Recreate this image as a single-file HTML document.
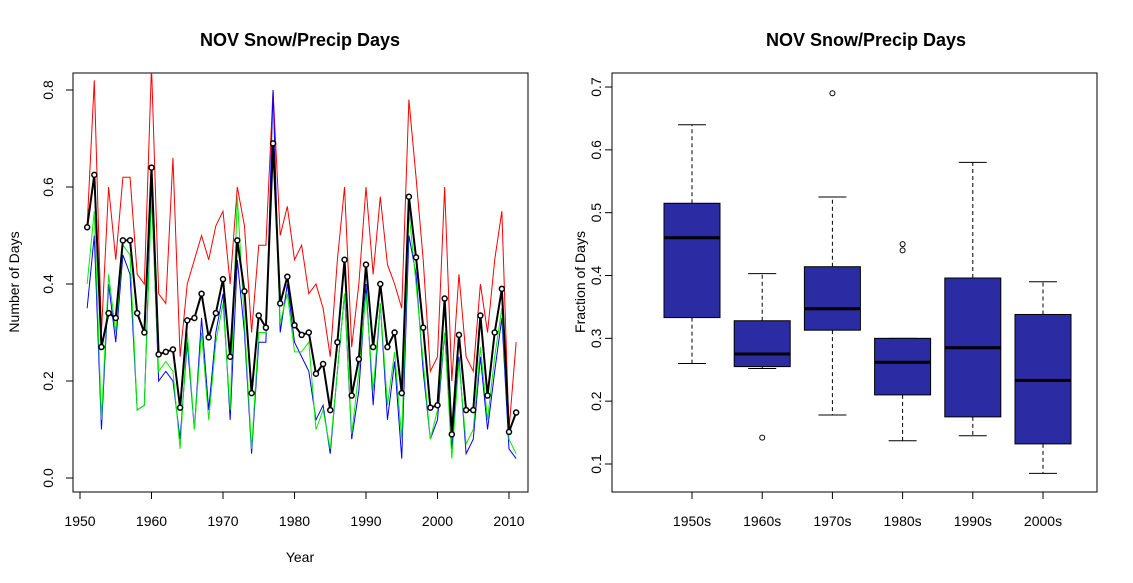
<!DOCTYPE html>
<html><head><meta charset="utf-8">
<style>
body{margin:0;background:#fff;}
svg{display:block;font-family:"Liberation Sans",Arial,sans-serif;}
</style></head>
<body>
<svg id="chart" width="1133" height="583">
<text x="300" y="46" font-size="18" font-weight="bold" text-anchor="middle">NOV Snow/Precip Days</text>
<text x="866" y="46" font-size="18" font-weight="bold" text-anchor="middle">NOV Snow/Precip Days</text>
<text x="300" y="562" font-size="14" text-anchor="middle">Year</text>
<text transform="translate(19,282) rotate(-90)" font-size="14" text-anchor="middle">Number of Days</text>
<text transform="translate(585,282) rotate(-90)" font-size="14" text-anchor="middle">Fraction of Days</text>
<g id="left"></g><g id="right"></g>
</svg>
<script>
const years=[];for(let y=1951;y<=2011;y++)years.push(y);
const black=[0.517,0.625,0.27,0.34,0.33,0.49,0.49,0.34,0.30,0.64,0.255,0.26,0.265,0.145,0.325,0.33,0.38,0.29,0.34,0.41,0.25,0.49,0.385,0.175,0.335,0.31,0.69,0.36,0.415,0.315,0.295,0.30,0.215,0.235,0.14,0.28,0.45,0.17,0.245,0.44,0.27,0.40,0.27,0.30,0.175,0.58,0.455,0.31,0.145,0.15,0.37,0.09,0.295,0.14,0.14,0.335,0.17,0.30,0.39,0.095,0.135];
const red=[0.52,0.82,0.30,0.60,0.45,0.62,0.62,0.42,0.40,0.85,0.38,0.36,0.66,0.25,0.40,0.45,0.50,0.45,0.52,0.55,0.40,0.60,0.52,0.30,0.48,0.48,0.80,0.50,0.56,0.45,0.48,0.38,0.40,0.35,0.25,0.45,0.60,0.27,0.40,0.60,0.42,0.58,0.44,0.40,0.35,0.78,0.62,0.45,0.22,0.25,0.60,0.20,0.42,0.25,0.22,0.40,0.30,0.45,0.55,0.10,0.28];
const blue=[0.35,0.50,0.10,0.40,0.28,0.46,0.42,0.14,0.15,0.60,0.20,0.22,0.20,0.08,0.28,0.10,0.33,0.14,0.30,0.38,0.12,0.45,0.30,0.05,0.28,0.28,0.80,0.30,0.40,0.28,0.25,0.22,0.12,0.15,0.05,0.22,0.38,0.08,0.18,0.40,0.15,0.36,0.12,0.24,0.04,0.50,0.42,0.22,0.08,0.12,0.30,0.06,0.25,0.05,0.08,0.25,0.10,0.22,0.33,0.06,0.04];
const green=[0.40,0.55,0.12,0.42,0.30,0.48,0.46,0.14,0.15,0.58,0.22,0.24,0.22,0.06,0.30,0.10,0.30,0.12,0.28,0.36,0.14,0.58,0.32,0.06,0.30,0.30,0.69,0.32,0.38,0.26,0.26,0.28,0.10,0.14,0.06,0.22,0.38,0.09,0.22,0.38,0.18,0.36,0.15,0.26,0.08,0.55,0.40,0.24,0.08,0.14,0.30,0.04,0.24,0.07,0.10,0.27,0.12,0.25,0.35,0.08,0.05];
const xTicks=[1950,1960,1970,1980,1990,2000,2010];
const yTicks=[0.0,0.2,0.4,0.6,0.8];
const decades=["1950s","1960s","1970s","1980s","1990s","2000s"];
const whLo=[0.26,0.252,0.178,0.137,0.145,0.085];
const q1=[0.333,0.255,0.313,0.21,0.175,0.132];
const med=[0.46,0.275,0.347,0.262,0.285,0.233];
const q3=[0.515,0.328,0.414,0.30,0.396,0.338];
const whHi=[0.64,0.403,0.525,0.30,0.58,0.39];
const outliers=[[],[0.142],[0.69],[0.44,0.45],[],[]];
const rTicks=[0.1,0.2,0.3,0.4,0.5,0.6,0.7];

const NS="http://www.w3.org/2000/svg";
function mk(p,t,a){const e=document.createElementNS(NS,t);for(const k in a)e.setAttribute(k,a[k]);p.appendChild(e);return e;}
const L=document.getElementById('left'),R=document.getElementById('right');
const xs=y=>80+(y-1950)*7.15, ys=v=>478-v*485;
let e=mk(L,'rect',{x:73,y:73,width:455,height:419,fill:'none',stroke:'#000'});


xTicks.forEach(t=>{mk(L,'line',{x1:xs(t),x2:xs(t),y1:492,y2:499,stroke:'#000'});
 const tx=mk(L,'text',{x:xs(t),y:526,'font-size':14,'text-anchor':'middle'});tx.textContent=t;
 
 });
yTicks.forEach(t=>{mk(L,'line',{x1:66,x2:73,y1:ys(t),y2:ys(t),stroke:'#000'});
 const tx=mk(L,'text',{transform:`translate(53,${ys(t)}) rotate(-90)`,'font-size':14,'text-anchor':'middle'});tx.textContent=t.toFixed(1);
 
 });
const cp=mk(L,'clipPath',{id:'lc'});mk(cp,'rect',{x:73,y:73,width:455,height:419});
function line(arr,col,w,name){const p=mk(L,'polyline',{points:arr.map((v,i)=>xs(years[i])+','+ys(v)).join(' '),fill:'none',stroke:col,'stroke-width':w,'clip-path':'url(#lc)'});
 
 }
line(red,'#f00',1,'red-series');line(blue,'#00f',1,'blue-series');line(green,'#0e0',1,'green-series');line(black,'#000',2,'black-series');
black.forEach((v,i)=>{const c=mk(L,'circle',{cx:xs(years[i]),cy:ys(v),r:2.5,fill:'#fff',stroke:'#000','stroke-width':1.5});
 
 });

const bx=i=>692+i*70.2, ry=v=>464-(v-0.1)*628.3;
e=mk(R,'rect',{x:612,y:73,width:485,height:419,fill:'none',stroke:'#000'});


rTicks.forEach(t=>{mk(R,'line',{x1:605,x2:612,y1:ry(t),y2:ry(t),stroke:'#000'});
 const tx=mk(R,'text',{transform:`translate(601,${ry(t)}) rotate(-90)`,'font-size':14,'text-anchor':'middle'});tx.textContent=t.toFixed(1);
 
 });
decades.forEach((d,i)=>{const x=bx(i),g=mk(R,'g',{});
 
 
 mk(g,'line',{x1:x,x2:x,y1:ry(q3[i]),y2:ry(whHi[i]),stroke:'#000','stroke-dasharray':'4,3'});
 mk(g,'line',{x1:x,x2:x,y1:ry(q1[i]),y2:ry(whLo[i]),stroke:'#000','stroke-dasharray':'4,3'});
 mk(g,'line',{x1:x-14,x2:x+14,y1:ry(whHi[i]),y2:ry(whHi[i]),stroke:'#000'});
 mk(g,'line',{x1:x-14,x2:x+14,y1:ry(whLo[i]),y2:ry(whLo[i]),stroke:'#000'});
 mk(g,'rect',{x:x-28,y:ry(q3[i]),width:56,height:ry(q1[i])-ry(q3[i]),fill:'#2b2ba3',stroke:'#000'});
 mk(g,'line',{x1:x-28,x2:x+28,y1:ry(med[i]),y2:ry(med[i]),stroke:'#000','stroke-width':3});
 outliers[i].forEach(o=>mk(g,'circle',{cx:x,cy:ry(o),r:2.5,fill:'none',stroke:'#000'}));
 mk(R,'line',{x1:x,x2:x,y1:492,y2:499,stroke:'#000'});
 const tx=mk(R,'text',{x:x,y:526,'font-size':14,'text-anchor':'middle'});tx.textContent=d;
 
 });
</script>
</body></html>
